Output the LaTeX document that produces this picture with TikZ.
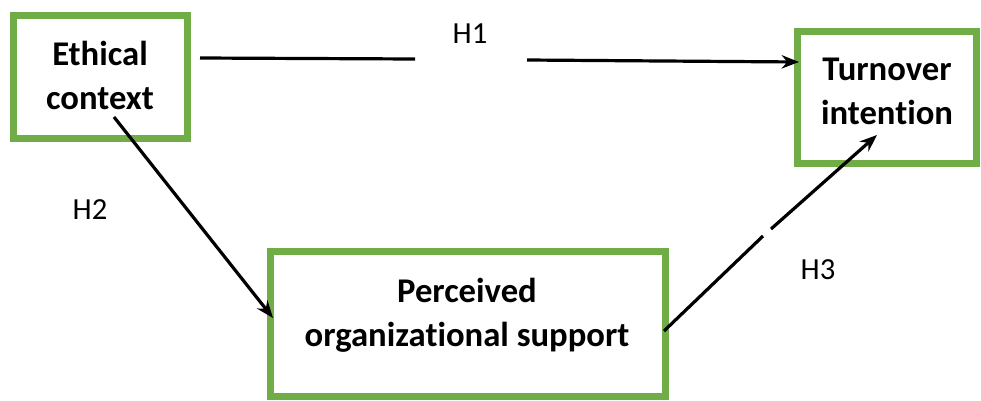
\documentclass[tikz,border=0pt]{standalone}
\usepackage{fontspec}
\setmainfont{Carlito}[Ligatures={NoCommon,NoContextual}]
\usetikzlibrary{arrows.meta}
\definecolor{boxgreen}{HTML}{70AD47}
\begin{document}
\begin{tikzpicture}[x=0.75pt,y=-0.75pt,
  box/.style={draw=boxgreen,line width=5.25pt,inner sep=0pt,fill=none},
  boxtext/.style={font=\fontsize{26}{33}\selectfont\bfseries,align=center,inner sep=0pt},
  hlabel/.style={font=\fontsize{23}{27}\selectfont,inner sep=0pt},
  conn/.style={line width=2.4pt,black},
  tip/.style={-{Stealth[length=13pt,width=10pt]}}]
\useasboundingbox (0,0) rectangle (981,400);
% boxes
\node[box,minimum width=130.5pt,minimum height=92.25pt] (ec) at (100,76.5) {};
\node[box,minimum width=134.25pt,minimum height=99pt] (ti) at (886.5,97) {};
\node[box,minimum width=296.25pt,minimum height=108.75pt] (pos) at (467.5,323.5) {};
% texts
\node[boxtext] (ect) at (100,75) {Ethical\\context};
\node[boxtext] (tit) at (887,91) {Turnover\\intention};
\node[boxtext] (post) at (467,315) {Perceived\\organizational support};
% labels
\node[hlabel] (h1) at (470,34) {H1};
\node[hlabel] (h2) at (90,210) {H2};
\node[hlabel] (h3) at (818,270) {H3};
% connector coordinates
\coordinate (h1s) at (200,58);
\coordinate (h1g1) at (415,59);
\coordinate (h1g2) at (527,60);
\coordinate (h1e) at (799,62);
\coordinate (h2s) at (114,117);
\coordinate (h2e) at (273,318);
\coordinate (h3s) at (664,331);
\coordinate (h3g1) at (763,236);
\coordinate (h3g2) at (771,229);
\coordinate (h3e) at (877,135);
% connectors
\draw[conn] (h1s) -- (h1g1);
\draw[conn,tip] (h1g2) -- (h1e);
\draw[conn,tip] (h2s) -- (h2e);
\draw[conn] (h3s) -- (h3g1);
\draw[conn,tip] (h3g2) -- (h3e);
\end{tikzpicture}
\end{document}
